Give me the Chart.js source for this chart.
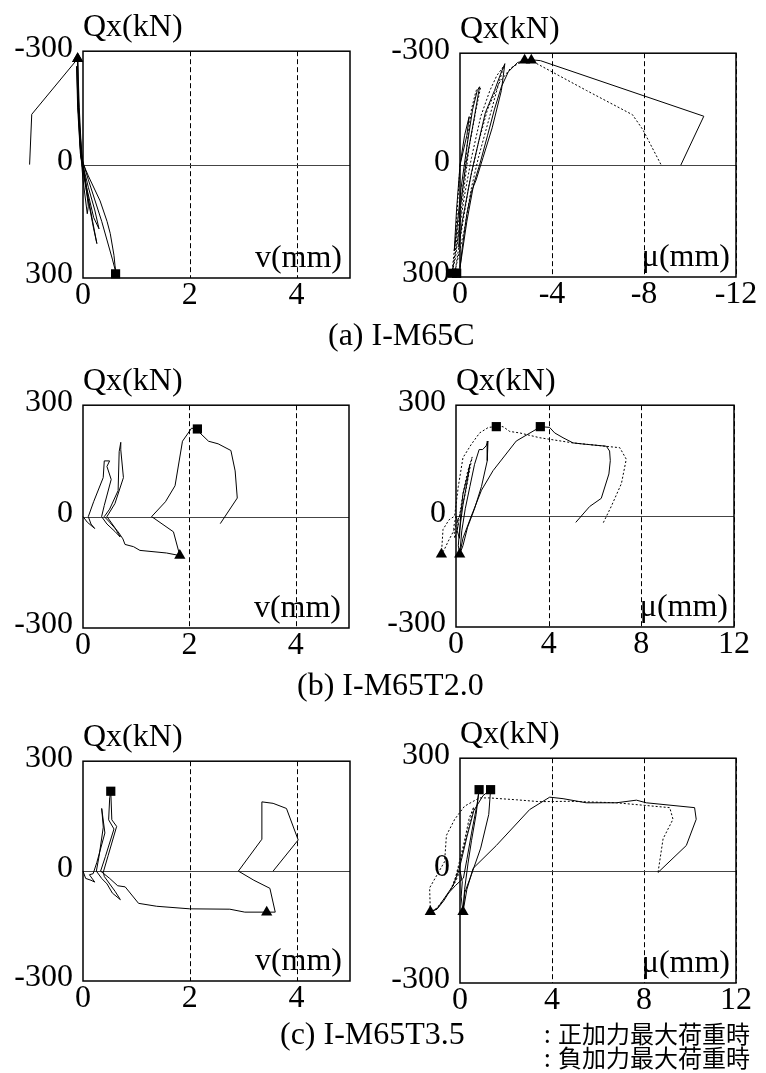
<!DOCTYPE html>
<html>
<head>
<meta charset="utf-8">
<script src="https://cdn.jsdelivr.net/npm/chart.js"></script>
<style>
body { margin: 0; background: #fff; }
#page { position: relative; width: 766px; height: 1073px; overflow: hidden; font-family: "Liberation Serif", serif; color: #000; }
canvas { position: absolute; }
.t { position: absolute; font-size: 32px; line-height: 1; white-space: nowrap; }
.jp { position: absolute; font-family: "Noto Sans CJK JP", sans-serif; font-size: 24px; line-height: 1; white-space: nowrap; }
</style>
</head>
<body>
<div id="page"></div>
<script>
// tick values
const vTicks = [0, 2, 4]
const uTicksNeg = [0, -4, -8, -12]
const uTicks = [0, 4, 8, 12]
const qTicks = [-300, 0, 300]

// (a) I-M65C  v - Qx
const aV = [[-0.02,0],[0.05,50],[0.1,110],[0.08,130],[0.0,40],[-0.06,-60],[-0.1,-180],[-0.08,-120],[0.0,0],[0.1,90],[0.18,150],[0.26,209],[0.2,170],[0.05,60],[-0.05,-30],[-0.1,-150],[-0.12,-260],[-0.09,-150],[-0.04,-20],[0.1,60],[0.22,120],[0.3,170],[0.2,140],[0.05,50],[-0.05,-50],[-0.1,-220],[-0.1,-280],[-0.07,-150],[-0.02,-10],[0.1,30],[0.32,96],[0.45,150],[0.51,182],[0.58,240],[0.6,268],[0.62,288],[0.55,250],[0.35,150],[0.1,40],[-0.03,-20],[-0.08,-150],[-0.1,-280],[-0.96,-133],[-1.0,0]]
const aVSq = [[0.61,289]]
const aVTri = [[-0.1,-280]]

// (a) I-M65C  u - Qx
const aU1 = [[0,0],[-0.2,-80],[-0.4,-130],[-0.3,-80],[0,0],[0.15,120],[0.25,230],[0.15,180],[-0.05,60],[-0.3,-50],[-0.55,-150],[-0.75,-200],[-0.85,-210],[-0.6,-120],[-0.25,0],[0,120],[0.05,220],[-0.1,150],[-0.5,20],[-0.8,-60],[-1.1,-140],[-1.5,-200],[-1.8,-250],[-1.95,-272],[-1.8,-200],[-1.4,-100],[-1.0,-20],[-0.7,40],[-0.5,70],[-0.3,130],[-0.1,220],[0.0,275],[-0.3,150],[-0.6,50],[-0.85,0],[-1.2,-80],[-1.5,-150],[-1.8,-210],[-2.1,-250],[-2.5,-275],[-3.0,-283],[-3.5,-280],[-10.6,-131],[-9.6,0]]
const aU2 = [[0,0],[0.1,100],[0.2,200],[0.35,290],[0.2,230],[0,120],[-0.2,20],[-0.35,-80],[-0.5,-150],[-0.7,-200],[-0.9,-210],[-0.7,-150],[-0.4,-50],[-0.1,100],[0.2,250],[0.35,290],[0.1,200],[-0.2,80],[-0.5,-20],[-0.9,-130],[-1.3,-200],[-1.6,-240],[-1.9,-265],[-1.6,-200],[-1.2,-110],[-0.8,-20],[-0.5,60],[-0.2,170],[0.2,280],[0.0,200],[-0.4,50],[-0.8,-60],[-1.2,-150],[-1.7,-220],[-2.2,-260],[-2.7,-278],[-3.1,-282],[-3.25,-275],[-5.5,-200],[-7.5,-135],[-7.95,-95],[-8.75,0]]
const aUSq = [[0.33,290],[0.15,290]]
const aUTri = [[-2.81,-281],[-3.1,-281]]

// (b) I-M65T2.0  v - Qx
const bV = [[0,0],[0.08,-15],[0.22,-32],[0.15,-20],[0.1,0],[0.2,40],[0.38,105],[0.4,150],[0.5,150],[0.45,135],[0.53,100],[0.4,30],[0.35,0],[0.45,-20],[0.6,-40],[0.7,-55],[0.6,-30],[0.45,0],[0.6,35],[0.76,105],[0.71,180],[0.71,200],[0.68,175],[0.66,70],[0.5,20],[0.4,0],[0.5,-15],[0.66,-41],[0.75,-60],[0.79,-75],[0.95,-81],[1.07,-91],[1.57,-98],[1.82,-105],[1.7,-41],[1.29,0],[1.55,40],[1.73,83],[1.87,203],[2.04,238],[2.15,236],[2.2,225],[2.36,203],[2.54,196],[2.78,178],[2.86,123],[2.9,50],[2.58,-19]]
const bVSq = [[2.15,236]]
const bVTri = [[1.82,-105]]

// (b) I-M65T2.0  u - Qx
const bU1 = [[0,0],[0.1,-20],[0.05,-40],[0.15,-60],[0.2,0],[0.3,60],[0.5,110],[0.6,140],[0.5,100],[0.3,30],[0.15,-40],[0.1,-80],[0.16,-103],[0.25,-40],[0.4,20],[0.6,80],[0.8,140],[1.0,180],[1.15,180],[1.3,190],[1.38,203],[1.35,150],[1.1,80],[0.8,20],[0.5,-30],[0.3,-80],[0.16,-103],[0.3,-60],[0.66,0],[1.1,70],[1.6,123],[2.6,203],[3.47,235],[3.64,242],[4.04,240],[4.26,225],[4.62,212],[5.05,198],[5.48,195],[6.49,189],[6.63,176],[6.66,150],[6.6,114],[6.27,48],[5.77,26],[5.17,-17]]
const bU2 = [[0,0],[-0.1,-30],[-0.05,-60],[0.1,-20],[0.3,60],[0.5,120],[0.7,160],[0.6,130],[0.4,60],[0.15,0],[-0.1,-40],[-0.35,-70],[-0.5,-90],[-0.63,-103],[-0.56,-36],[-0.3,-10],[-0.06,0],[0.1,80],[0.3,158],[0.66,194],[1.02,225],[1.4,240],[1.74,242],[2.03,242],[2.32,229],[2.75,225],[3.61,212],[5.05,198],[7.07,185],[7.35,154],[7.14,88],[6.7,26],[6.35,-19]]
const bUSq = [[1.74,242],[3.64,242]]
const bUTri = [[-0.63,-103],[0.16,-103]]

// (c) I-M65T3.5  v - Qx
const cV = [[0,0],[0.05,-20],[0.15,-25],[0.22,-30],[0.12,-10],[0.19,-7],[0.26,24],[0.41,104],[0.35,171],[0.38,120],[0.3,40],[0.25,0],[0.35,-20],[0.45,-35],[0.55,-60],[0.7,-78],[0.6,-55],[0.4,-15],[0.38,-3],[0.47,42],[0.63,122],[0.54,140],[0.52,218],[0.5,200],[0.48,140],[0.58,115],[0.42,40],[0.33,0],[0.5,-20],[0.65,-40],[0.79,-43],[1.04,-88],[1.38,-96],[2.0,-103],[2.75,-104],[3.03,-112],[3.44,-112],[3.6,-112],[3.5,-47],[3.2,-25],[2.91,0],[3.35,87],[3.35,189],[3.56,185],[3.81,171],[4.03,85],[3.56,0]]
const cVSq = [[0.52,218]]
const cVTri = [[3.44,-112]]

// (c) I-M65T3.5  u - Qx
const cU1 = [[0,0],[0.1,-30],[0.05,-70],[0.13,-110],[0.2,-50],[0.35,20],[0.5,80],[0.7,150],[0.83,216],[0.75,180],[0.5,100],[0.3,30],[0.15,-20],[-0.2,-40],[-0.5,-60],[-0.7,-80],[-1.0,-103],[-1.29,-110],[-1.0,-102],[-0.67,-73],[-0.3,-40],[-0.05,0],[0.3,90],[0.6,160],[1.0,200],[1.33,216],[1.25,150],[0.9,60],[0.5,-10],[0.2,-60],[0.13,-110],[0.3,-50],[0.57,6],[1.58,67],[3.03,163],[3.9,196],[4.48,192],[5.49,181],[6.8,181],[7.67,188],[8.1,181],[10.2,168],[10.27,137],[9.84,67],[8.61,-5]]
const cU2 = [[0,0],[-0.2,-30],[-0.4,-50],[-0.2,-20],[0.2,80],[0.4,140],[0.6,170],[0.3,100],[0,20],[-0.3,-40],[-0.5,-60],[-1.0,-100],[-1.29,-110],[-1.32,-46],[-0.67,24],[-0.59,94],[-0.23,137],[0.2,172],[0.84,194],[1.28,194],[2.45,189],[3.46,184],[4.75,185],[6.8,181],[9.12,168],[9.26,137],[8.83,85],[8.61,-5]]
const cUSq = [[0.83,216],[1.33,216]]
const cUTri = [[-1.29,-110],[0.13,-110]]

const pts = a => a.map(p => ({ x: p[0], y: p[1] }))
const page = document.getElementById('page')
const tickFont = { family: 'Liberation Serif', size: 32 }
const SQ = 6.5, TRI = 6.5

// frame, zero line and dashed guides
const frame = {
  id: 'frame',
  beforeDatasetsDraw(chart, args, opts) {
    const { ctx, chartArea: a } = chart
    const x = chart.scales.x, y = chart.scales.y
    ctx.save()
    ctx.lineWidth = 1
    ctx.strokeStyle = '#000'
    ctx.setLineDash([5, 3])
    opts.dash.forEach(v => {
      const px = Math.round(x.getPixelForValue(v)) + 0.5
      ctx.beginPath(); ctx.moveTo(px, a.top); ctx.lineTo(px, a.bottom); ctx.stroke()
    })
    ctx.setLineDash([])
    ctx.strokeStyle = '#444'
    const zy = Math.round(y.getPixelForValue(0)) + 0.5
    ctx.beginPath(); ctx.moveTo(a.left, zy); ctx.lineTo(a.right, zy); ctx.stroke()
    ctx.strokeStyle = '#000'
    ctx.lineWidth = 1.5
    ctx.strokeRect(a.left, a.top, a.right - a.left, a.bottom - a.top)
    ctx.restore()
  },
  // chart.js skips points outside the chart area, so draw those markers here
  afterDatasetsDraw(chart) {
    const { ctx, chartArea: a } = chart
    const x = chart.scales.x, y = chart.scales.y
    ctx.save()
    ctx.fillStyle = '#000'
    chart.data.datasets.forEach(ds => {
      if (ds.showLine) return
      ds.data.forEach(p => {
        const px = x.getPixelForValue(p.x), py = y.getPixelForValue(p.y)
        if (px >= a.left && px <= a.right && py >= a.top && py <= a.bottom) return
        ctx.beginPath()
        if (ds.pointStyle == 'rect') {
          const s = ds.pointRadius * Math.SQRT1_2
          ctx.rect(px - s, py - s, 2 * s, 2 * s)
        } else {
          const r = ds.pointRadius
          ctx.moveTo(px, py - r)
          ctx.lineTo(px + r * 0.866, py + r * 0.5)
          ctx.lineTo(px - r * 0.866, py + r * 0.5)
          ctx.closePath()
        }
        ctx.fill()
      })
    })
    ctx.restore()
  }
}

function line(data, dotted) {
  return { data: pts(data), showLine: true, pointRadius: 0, borderColor: '#000', borderWidth: 1,
    borderDash: dotted ? [2, 2] : [], tension: 0, clip: false }
}
function marks(data, style) {
  return { data: pts(data), showLine: false, pointStyle: style, pointRadius: style == 'rect' ? SQ : TRI,
    backgroundColor: '#000', borderColor: '#000', borderWidth: 0, clip: false }
}

function panel(left, top, w, h, o) {
  const c = document.createElement('canvas')
  const padL = 80, padT = 25, padR = 30, padB = 40
  c.width = w + padL + padR
  c.height = h + padT + padB
  c.style.left = (left - padL) + 'px'
  c.style.top = (top - padT) + 'px'
  page.appendChild(c)
  new Chart(c, {
    type: 'scatter',
    data: { datasets: o.sets },
    options: {
      responsive: false, animation: false, devicePixelRatio: 1,
      layout: { padding: { left: 0, top: padT, right: padR, bottom: 0 } },
      plugins: { legend: { display: false }, tooltip: { enabled: false }, frame: { dash: o.dash } },
      scales: {
        x: {
          type: 'linear', min: o.xmin, max: o.xmax, reverse: !!o.xrev,
          grid: { display: false, drawTicks: false }, border: { display: false },
          ticks: { font: tickFont, color: '#000', padding: -2, maxRotation: 0, callback: v => String(v) },
          afterBuildTicks: s => { s.ticks = o.xt.map(v => ({ value: v })) },
          afterFit: s => { s.height = padB }
        },
        y: {
          type: 'linear', min: -300, max: 300, reverse: !!o.yrev,
          grid: { display: false, drawTicks: false }, border: { display: false },
          ticks: { font: tickFont, color: '#000', padding: 10, labelOffset: -3, callback: v => String(v) },
          afterBuildTicks: s => { s.ticks = qTicks.map(v => ({ value: v })) },
          afterFit: s => { s.width = padL }
        }
      }
    },
    plugins: [frame]
  })
  text('Qx(kN)', left, top - 38)
  const lab = document.createElement('div')
  lab.className = 't'
  lab.textContent = o.xl
  lab.style.right = (766 - (left + w) + o.xr) + 'px'
  lab.style.top = (top + h - 38) + 'px'
  page.appendChild(lab)
}

function text(s, x, y, cls) {
  const d = document.createElement('div')
  d.className = cls || 't'
  d.textContent = s
  d.style.left = x + 'px'
  d.style.top = y + 'px'
  page.appendChild(d)
  return d
}

panel(83, 47, 267, 231, { xmin: 0, xmax: 5, xt: vTicks, yrev: true, dash: [2, 4], xl: 'v(mm)', xr: 8,
  sets: [line(aV), marks(aVSq, 'rect'), marks(aVTri, 'triangle')] })
panel(460, 49, 276, 228, { xmin: -12, xmax: 0, xrev: true, xt: uTicksNeg, yrev: true, dash: [-4, -8, -12], xl: 'μ(mm)', xr: 6,
  sets: [line(aU1), line(aU2, true), marks(aUSq, 'rect'), marks(aUTri, 'triangle')] })
panel(83, 401, 266, 227, { xmin: 0, xmax: 5, xt: vTicks, dash: [2, 4], xl: 'v(mm)', xr: 8,
  sets: [line(bV), marks(bVSq, 'rect'), marks(bVTri, 'triangle')] })
panel(456, 401, 278, 226, { xmin: 0, xmax: 12, xt: uTicks, dash: [4, 8, 12], xl: 'μ(mm)', xr: 6,
  sets: [line(bU1), line(bU2, true), marks(bUSq, 'rect'), marks(bUTri, 'triangle')] })
panel(83, 757, 267, 224, { xmin: 0, xmax: 5, xt: vTicks, dash: [2, 4], xl: 'v(mm)', xr: 8,
  sets: [line(cV), marks(cVSq, 'rect'), marks(cVTri, 'triangle')] })
panel(460, 754, 276, 229, { xmin: 0, xmax: 12, xt: uTicks, dash: [4, 8, 12], xl: 'μ(mm)', xr: 6,
  sets: [line(cU1), line(cU2, true), marks(cUSq, 'rect'), marks(cUTri, 'triangle')] })

text('(a) I-M65C', 328, 318)
text('(b) I-M65T2.0', 297, 668)
text('(c) I-M65T3.5', 280, 1017)
text(':', 544, 1021, 'jp')
text('正加力最大荷重時', 558, 1021, 'jp')
text(':', 544, 1045, 'jp')
text('負加力最大荷重時', 558, 1045, 'jp')
</script>
</body>
</html>
